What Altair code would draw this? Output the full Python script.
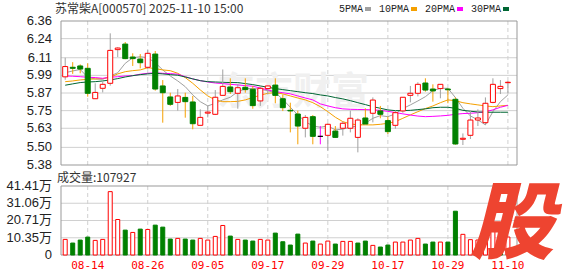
import altair as alt
import pandas as pd

# ---------------- data ----------------
dates = ["08-11", "08-12", "08-13", "08-14", "08-15", "08-18", "08-19", "08-20", "08-21", "08-22",
         "08-25", "08-26", "08-27", "08-28", "08-29", "09-01", "09-02", "09-03", "09-04", "09-05",
         "09-08", "09-09", "09-10", "09-11", "09-12", "09-15", "09-16", "09-17", "09-18", "09-19",
         "09-22", "09-23", "09-24", "09-25", "09-26", "09-29", "09-30", "10-09", "10-10", "10-13",
         "10-14", "10-15", "10-16", "10-17", "10-20", "10-21", "10-22", "10-23", "10-24", "10-27",
         "10-28", "10-29", "10-30", "10-31", "11-03", "11-04", "11-05", "11-06", "11-07", "11-10"]

opens = [5.980, 6.045, 6.054, 6.038, 5.831, 5.902, 5.936, 6.165, 6.203, 6.115,
         6.101, 6.045, 6.135, 5.918, 5.843, 5.806, 5.840, 5.809, 5.650, 5.733,
         5.725, 5.854, 5.911, 5.868, 5.909, 5.895, 5.816, 5.900, 5.924, 5.831,
         5.752, 5.727, 5.630, 5.709, 5.575, 5.582, 5.611, 5.630, 5.630, 5.568,
         5.700, 5.732, 5.748, 5.682, 5.650, 5.748, 5.854, 5.868, 5.938, 5.897,
         5.900, 5.897, 5.827, 5.555, 5.582, 5.686, 5.668, 5.806, 5.900, 5.940]
highs = [6.110, 6.080, 6.065, 6.072, 5.936, 5.947, 6.276, 6.181, 6.217, 6.140,
         6.135, 6.163, 6.156, 5.958, 5.872, 5.897, 5.872, 5.850, 5.759, 5.782,
         5.890, 6.030, 5.970, 5.931, 5.970, 5.918, 5.918, 5.920, 5.970, 5.859,
         5.804, 5.750, 5.720, 5.720, 5.645, 5.664, 5.645, 5.675, 5.750, 5.698,
         5.766, 5.840, 5.782, 5.709, 5.750, 5.841, 5.918, 5.943, 5.970, 5.929,
         5.929, 5.902, 5.840, 5.595, 5.750, 5.759, 5.840, 5.970, 5.958, 5.952]
lows = [5.960, 6.000, 6.004, 5.845, 5.831, 5.874, 5.920, 6.115, 6.100, 6.054,
        6.038, 6.031, 5.886, 5.668, 5.782, 5.750, 5.702, 5.623, 5.650, 5.704,
        5.720, 5.850, 5.863, 5.763, 5.872, 5.763, 5.782, 5.860, 5.800, 5.747,
        5.602, 5.521, 5.568, 5.521, 5.521, 5.478, 5.566, 5.580, 5.602, 5.466,
        5.659, 5.670, 5.698, 5.591, 5.627, 5.736, 5.806, 5.847, 5.879, 5.811,
        5.834, 5.800, 5.518, 5.516, 5.557, 5.645, 5.654, 5.800, 5.863, 5.868]
closes = [6.050, 6.038, 6.033, 5.868, 5.874, 5.929, 6.160, 6.176, 6.104, 6.104,
          6.076, 6.140, 5.897, 5.872, 5.793, 5.850, 5.811, 5.661, 5.704, 5.740,
          5.841, 5.915, 5.879, 5.906, 5.893, 5.784, 5.902, 5.918, 5.854, 5.770,
          5.748, 5.645, 5.704, 5.575, 5.575, 5.657, 5.568, 5.664, 5.698, 5.686,
          5.659, 5.822, 5.725, 5.607, 5.736, 5.841, 5.868, 5.929, 5.890, 5.884,
          5.929, 5.892, 5.523, 5.562, 5.686, 5.700, 5.800, 5.929, 5.915, 5.943]
# volume in 万 (10k)
volumes = [9.36, 7.17, 8.96, 10.75, 8.76, 9.36, 38.03, 21.30, 14.93, 13.54,
           15.53, 15.33, 17.92, 16.72, 9.56, 9.96, 9.56, 8.96, 9.96, 8.96,
           11.15, 17.72, 11.35, 9.36, 8.96, 8.36, 9.36, 8.96, 13.14, 7.96,
           5.97, 12.54, 7.17, 8.36, 6.57, 8.36, 6.57, 8.16, 8.16, 7.17,
           8.36, 5.77, 4.78, 5.97, 7.76, 7.76, 8.96, 9.96, 6.57, 7.76,
           7.76, 7.76, 26.28, 12.40, 9.20, 9.00, 12.00, 14.50, 13.74, 10.79]

ma5 = [6.008, 6.020, 6.030, 5.977, 5.965, 5.963, 5.986, 6.008, 6.072, 6.110,
       6.117, 6.110, 6.076, 6.027, 5.986, 5.952, 5.913, 5.857, 5.811, 5.782,
       5.800, 5.823, 5.841, 5.879, 5.898, 5.902, 5.895, 5.886, 5.872, 5.827,
       5.773, 5.721, 5.675, 5.646, 5.637, 5.646, 5.619, 5.624, 5.637, 5.646,
       5.664, 5.698, 5.716, 5.709, 5.728, 5.764, 5.789, 5.816, 5.845, 5.886,
       5.902, 5.902, 5.839, 5.766, 5.714, 5.687, 5.653, 5.743, 5.811, 5.857]
ma10 = [5.947, 5.952, 5.959, 5.963, 5.966, 5.968, 5.977, 6.000, 6.015, 6.022,
        6.027, 6.042, 6.036, 6.027, 6.022, 6.004, 5.975, 5.936, 5.891, 5.850,
        5.823, 5.811, 5.811, 5.813, 5.823, 5.839, 5.855, 5.868, 5.872, 5.864,
        5.850, 5.836, 5.823, 5.804, 5.777, 5.743, 5.705, 5.675, 5.660, 5.653,
        5.653, 5.653, 5.657, 5.664, 5.675, 5.698, 5.721, 5.743, 5.764, 5.782,
        5.804, 5.823, 5.818, 5.804, 5.796, 5.789, 5.782, 5.777, 5.782, 5.786]
ma20 = [5.986, 5.984, 5.981, 5.977, 5.975, 5.970, 5.977, 5.981, 5.986, 5.988,
        5.998, 6.004, 6.008, 6.004, 6.002, 5.998, 5.981, 5.966, 5.954, 5.945,
        5.938, 5.934, 5.929, 5.925, 5.920, 5.916, 5.904, 5.891, 5.879, 5.872,
        5.864, 5.850, 5.836, 5.823, 5.796, 5.782, 5.770, 5.762, 5.759, 5.758,
        5.757, 5.755, 5.752, 5.745, 5.737, 5.728, 5.720, 5.713, 5.709, 5.711,
        5.714, 5.718, 5.725, 5.730, 5.732, 5.736, 5.743, 5.755, 5.773, 5.786]
ma30 = [5.923, 5.932, 5.941, 5.945, 5.947, 5.952, 5.959, 5.968, 5.979, 5.988,
        5.995, 6.000, 6.004, 6.000, 5.995, 5.991, 5.979, 5.966, 5.954, 5.947,
        5.945, 5.943, 5.941, 5.941, 5.934, 5.927, 5.918, 5.909, 5.900, 5.893,
        5.886, 5.879, 5.872, 5.866, 5.857, 5.850, 5.839, 5.830, 5.818, 5.804,
        5.791, 5.777, 5.766, 5.755, 5.750, 5.750, 5.752, 5.757, 5.762, 5.770,
        5.773, 5.773, 5.766, 5.752, 5.746, 5.741, 5.739, 5.739, 5.739, 5.739]

price_ticks = [5.38, 5.50, 5.63, 5.75, 5.87, 5.99, 6.11, 6.24, 6.36]
vol_ticks = [0, 10.35, 20.71, 31.06, 41.41]
vol_tick_labels = ["0", "10.35万", "20.71万", "31.06万", "41.41万"]
x_label_dates = ["08-14", "08-26", "09-05", "09-17", "09-29", "10-17", "10-29", "11-10"]
ma_names = ["5PMA", "10PMA", "20PMA", "30PMA"]
ma_colors = ["#a0a0a0", "#f5a000", "#ff00ff", "#006633"]
title_text = "苏常柴A[000570] 2025-11-10  15:00"
vol_title = "成交量:107927"

# ---------------- tables ----------------
n = len(dates)
df = pd.DataFrame({
    "idx": list(range(n)), "date": dates, "open": opens, "high": highs,
    "low": lows, "close": closes, "vol": volumes,
    "ma5": ma5, "ma10": ma10, "ma20": ma20, "ma30": ma30,
})
df["dir"] = ["up" if c > o else ("down" if c < o else "flat") for o, c in zip(opens, closes)]
prev = [None] + closes[:-1]
df["vdir"] = ["up" if (p is None or c >= p) else "down" for p, c in zip(prev, closes)]

label_idx = [dates.index(d) for d in x_label_dates]
X_LO, X_HI = -0.56, 60.21
P_LO, P_HI = price_ticks[0], price_ticks[-1]
V_LO, V_HI = vol_ticks[0], vol_ticks[-1]

x_scale = alt.Scale(domain=[X_LO, X_HI], nice=False, zero=False)
p_scale = alt.Scale(domain=[P_LO, P_HI], range=[144, 0], nice=False, zero=False)
v_scale = alt.Scale(domain=[V_LO, V_HI], range=[234, 165], nice=False, zero=False)

xq = alt.X("idx:Q", scale=x_scale, axis=None)
dir_stroke = alt.Scale(domain=["up", "down", "flat"], range=["#ff0000", "#008000", "#000000"])
dir_fill = alt.Scale(domain=["up", "down", "flat"], range=["#ffffff", "#008000", "#000000"])

GRID = "#d0d0d0"
FRAME = "#999999"
LBL = "#222222"

base = alt.Chart(df)

# ---------------- price panel ----------------
ph_df = pd.DataFrame({"v": price_ticks[1:-1], "x0": X_LO, "x1": X_HI})
p_hgrid = alt.Chart(ph_df).mark_rule(color=GRID, strokeWidth=1).encode(
    x=alt.X("x0:Q", scale=x_scale, axis=None), x2="x1:Q",
    y=alt.Y("v:Q", scale=p_scale, axis=None))

vgrid_df = pd.DataFrame({"idx": label_idx, "top": P_HI, "bot": P_LO})
p_vgrid = alt.Chart(vgrid_df).mark_rule(color=GRID, strokeDash=[4, 3], strokeWidth=1).encode(
    x=xq, y=alt.Y("top:Q", scale=p_scale, axis=None), y2="bot:Q")

plab_df = pd.DataFrame({"v": price_ticks})
p_labels = alt.Chart(plab_df).mark_text(
    align="right", baseline="middle", font="Liberation Sans", fontSize=13, color=LBL).encode(
    x=alt.value(-4), y=alt.Y("v:Q", scale=p_scale, axis=None),
    text=alt.Text("v:Q", format=".2f"))

mark_df = pd.DataFrame({"t": ["东方财富"]})
watermark = alt.Chart(mark_df).mark_text(
    font="Noto Sans CJK SC", fontSize=38, fontWeight="bold", color="#f0f0f0",
    align="center", baseline="middle").encode(text="t:N", x=alt.value(237), y=alt.value(72))

ma_lines = base.transform_fold(["ma5", "ma10", "ma20", "ma30"], as_=["ma", "val"]).mark_line(
    strokeWidth=1).encode(
    x=xq,
    y=alt.Y("val:Q", scale=p_scale, axis=None),
    color=alt.Color("ma:N", scale=alt.Scale(domain=["ma5", "ma10", "ma20", "ma30"], range=ma_colors),
                    legend=None),
    order=alt.Order("idx:Q"),
)

wicks = base.mark_rule(strokeWidth=1).encode(
    x=xq,
    y=alt.Y("low:Q", scale=p_scale, axis=None),
    y2="high:Q",
    color=alt.Color("dir:N", scale=dir_stroke, legend=None),
)
bodies = base.mark_bar(size=5, strokeWidth=1).encode(
    x=xq,
    y=alt.Y("open:Q", scale=p_scale, axis=None),
    y2="close:Q",
    fill=alt.Fill("dir:N", scale=dir_fill, legend=None),
    stroke=alt.Stroke("dir:N", scale=dir_stroke, legend=None),
)

pframe_df = pd.DataFrame({"x0": [X_LO], "x1": [X_HI], "y0": [P_HI], "y1": [P_LO]})
p_frame = alt.Chart(pframe_df).mark_rect(fillOpacity=0, stroke=FRAME, strokeWidth=1).encode(
    x=alt.X("x0:Q", scale=x_scale, axis=None), x2="x1:Q",
    y=alt.Y("y0:Q", scale=p_scale, axis=None), y2="y1:Q",
)

price = alt.layer(p_hgrid, p_vgrid, watermark, ma_lines, wicks, bodies, p_frame, p_labels)

# ---------------- volume panel ----------------
vvgrid_df = pd.DataFrame({"idx": label_idx, "top": V_HI, "bot": V_LO})
v_vgrid = alt.Chart(vvgrid_df).mark_rule(color=GRID, strokeDash=[4, 3], strokeWidth=1).encode(
    x=xq, y=alt.Y("top:Q", scale=v_scale, axis=None), y2="bot:Q")

vh_df = pd.DataFrame({"v": vol_ticks[1:-1], "x0": X_LO, "x1": X_HI})
v_hgrid = alt.Chart(vh_df).mark_rule(color=GRID, strokeWidth=1).encode(
    x=alt.X("x0:Q", scale=x_scale, axis=None), x2="x1:Q",
    y=alt.Y("v:Q", scale=v_scale, axis=None))

vlab_df = pd.DataFrame({"v": vol_ticks, "lab": vol_tick_labels})
v_labels = alt.Chart(vlab_df).mark_text(
    align="right", baseline="middle", font="Liberation Sans, Noto Sans CJK SC", fontSize=13,
    color=LBL).encode(
    x=alt.value(-4), y=alt.Y("v:Q", scale=v_scale, axis=None), text="lab:N")

vol_bars = base.mark_bar(size=4, strokeWidth=1).encode(
    x=xq,
    y=alt.Y("vol:Q", scale=v_scale, axis=None),
    fill=alt.Fill("vdir:N", scale=alt.Scale(domain=["up", "down"], range=["#ffffff", "#008000"]),
                  legend=None),
    stroke=alt.Stroke("vdir:N", scale=alt.Scale(domain=["up", "down"], range=["#ff0000", "#008000"]),
                      legend=None),
)

xlab_df = pd.DataFrame({"idx": label_idx, "lab": x_label_dates})
x_labels = alt.Chart(xlab_df).mark_text(
    align="center", baseline="middle", font="DejaVu Sans Mono", fontSize=11, color="#ff0000").encode(
    x=xq, y=alt.value(245), text="lab:N")

vframe_df = pd.DataFrame({"x0": [X_LO], "x1": [X_HI], "y0": [V_HI], "y1": [V_LO]})
v_frame = alt.Chart(vframe_df).mark_rect(fillOpacity=0, stroke=FRAME, strokeWidth=1).encode(
    x=alt.X("x0:Q", scale=x_scale, axis=None), x2="x1:Q",
    y=alt.Y("y0:Q", scale=v_scale, axis=None), y2="y1:Q",
)

gu_df = pd.DataFrame({"t": ["股"]})
gu_logo = alt.Chart(gu_df).mark_text(
    font="Noto Sans CJK SC", fontSize=84, fontWeight=900, fontStyle="italic",
    color="#ee4430", align="center", baseline="middle").encode(
    text="t:N", x=alt.value(456), y=alt.value(206))

volume = alt.layer(v_vgrid, v_hgrid, v_frame, vol_bars, v_labels, x_labels, gu_logo)

# ---------------- header texts ----------------
title_df = pd.DataFrame({"t": [title_text]})
title = alt.Chart(title_df).mark_text(
    align="left", baseline="middle", font="Noto Sans CJK SC", fontSize=12, color="#333333").encode(
    text="t:N", x=alt.value(-1), y=alt.value(-12))

vt_df = pd.DataFrame({"t": [vol_title]})
vtitle = alt.Chart(vt_df).mark_text(
    align="left", baseline="middle", font="Noto Sans CJK SC", fontSize=12, color="#333333").encode(
    text="t:N", x=alt.value(1), y=alt.value(156.5))

legend_layers = []
for k, (name, col) in enumerate(zip(ma_names, ma_colors)):
    sq_left = 309 + 46 * k
    ldf = pd.DataFrame({"t": [name]})
    legend_layers.append(alt.Chart(ldf).mark_text(
        align="right", baseline="middle", font="Liberation Mono", fontSize=10,
        color="#222222").encode(text="t:N", x=alt.value(sq_left - 2), y=alt.value(-12)))
    legend_layers.append(alt.Chart(ldf).mark_rect(color=col).encode(
        x=alt.value(sq_left), x2=alt.value(sq_left + 6), y=alt.value(-14), y2=alt.value(-10)))

chart = alt.layer(price, volume, title, vtitle, *legend_layers).resolve_scale(
    y="independent"
).properties(
    width=466, height=234,
    autosize=alt.AutoSizeParams(type="none"),
    padding={"left": 56, "top": 21, "right": 56, "bottom": 21},
    background="#ffffff",
).configure_view(stroke=None)

chart.save("out.html", embed_options={"renderer": "svg", "actions": False})
